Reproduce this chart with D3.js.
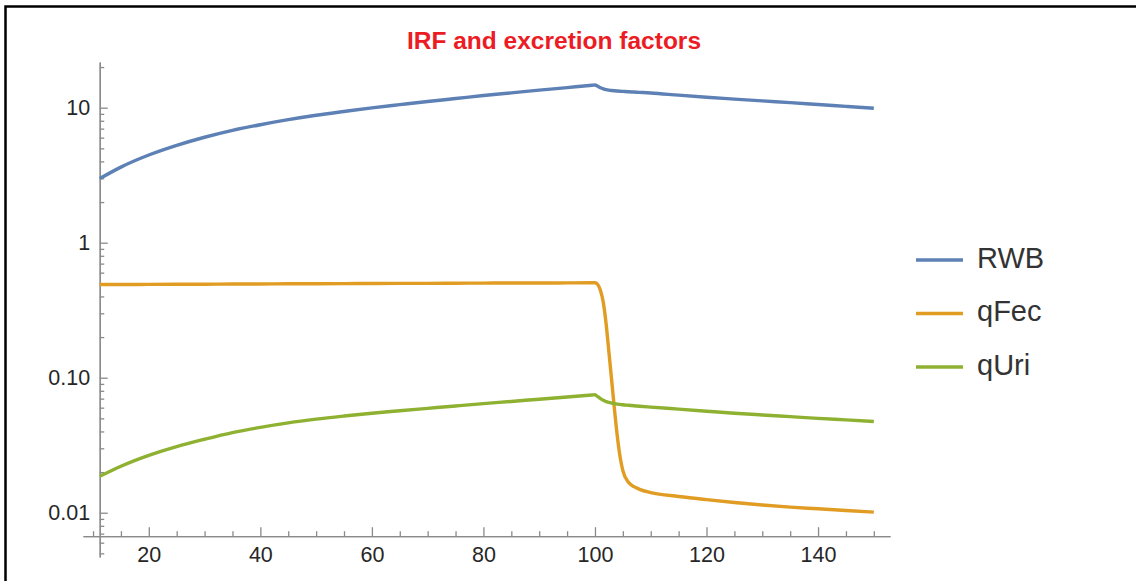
<!DOCTYPE html>
<html>
<head>
<meta charset="utf-8">
<script src="https://cdn.jsdelivr.net/npm/d3@7"></script>
<style>
  body { margin: 0; background: #fff; }
  svg { display: block; }
</style>
</head>
<body>
<div id="chart"></div>
<script>
// Chart values
var xs = [11.2, 15, 20, 25, 30, 35, 40, 45, 50, 55, 60, 65, 70, 75, 80, 85, 90, 95, 99.5, 100,
  100.5, 101, 101.5, 102, 102.5, 103, 103.5, 104, 104.5, 105, 106, 107, 108,
  110, 115, 120, 125, 130, 135, 140, 145, 150];

var rwb = [2.985, 3.63, 4.46, 5.26, 6.04, 6.79, 7.48, 8.15, 8.79, 9.38, 9.98, 10.54, 11.12, 11.69, 12.3, 12.88, 13.49, 14.09, 14.66, 14.72,
  14.4, 14.05, 13.8, 13.6, 13.48, 13.4, 13.34, 13.29, 13.25, 13.21, 13.13, 13.06, 12.99,
  12.85, 12.38, 11.95, 11.58, 11.23, 10.9, 10.55, 10.22, 9.9];

var qFec = [0.49, 0.49, 0.491, 0.492, 0.493, 0.494, 0.495, 0.496, 0.497, 0.498, 0.499, 0.5, 0.5, 0.501, 0.502, 0.503, 0.503, 0.504, 0.505, 0.505,
  0.49, 0.44, 0.36, 0.25, 0.155, 0.095, 0.058, 0.037, 0.026, 0.0205, 0.0168, 0.0156, 0.0149,
  0.0141, 0.0132, 0.0125, 0.0119, 0.0114, 0.011, 0.0107, 0.0104, 0.0101];

var qUri = [0.0186, 0.0221, 0.0266, 0.0309, 0.035, 0.0392, 0.0429, 0.0463, 0.0493, 0.052, 0.0546, 0.0569, 0.0593, 0.0618, 0.0643, 0.0667, 0.0693, 0.0719, 0.0745, 0.0748,
  0.0724, 0.07, 0.068, 0.0665, 0.0656, 0.0649, 0.0643, 0.0638, 0.0634, 0.063, 0.0625, 0.062, 0.0615,
  0.0606, 0.0585, 0.0565, 0.0546, 0.053, 0.0515, 0.05, 0.0487, 0.0474];

var seriesNames = ["RWB", "qFec", "qUri"];
var seriesColors = ["#5e81b5", "#e19c24", "#8fb131"];

var xMajorTicks = [20, 40, 60, 80, 100, 120, 140];
var xMinorTicks = [10, 15, 25, 30, 35, 45, 50, 55, 65, 70, 75, 85, 90, 95, 105, 110, 115, 125, 130, 135, 145, 150];
var yMajorTicks = [0.01, 0.1, 1, 10];
var yTickLabels = ["0.01", "0.10", "1", "10"];

var titleText = "IRF and excretion factors";

// Sizes
var svgWidth = 1136;
var svgHeight = 581;

var svg = d3.select("#chart")
  .append("svg")
  .attr("width", svgWidth)
  .attr("height", svgHeight);

// frame (top and left edges only are visible)
svg.append("path")
  .attr("d", "M5.5," + svgHeight + "V6.5H" + svgWidth)
  .attr("fill", "none")
  .attr("stroke", "#000")
  .attr("stroke-width", 2.5);

// Scales: axis lines run a little past the data
var xScale = d3.scaleLinear()
  .domain([8.2, 152.9])
  .range([83, 890]);

var yScale = d3.scaleLog()
  .domain([0.0047, 21.8])
  .range([557, 62]);

var xCross = 11.2;    // where the y axis sits
var yCross = 0.0067;  // where the x axis sits

var axisColor = "#8a8a8a";
var labelColor = "#262626";

// x axis: minor then major ticks, pointing up
var xAxisMinor = svg.append("g")
  .attr("transform", `translate(0, ${yScale(yCross)})`)
  .call(d3.axisBottom(xScale).tickValues(xMinorTicks).tickSize(-5).tickSizeOuter(0).tickFormat(""));

var xAxisMajor = svg.append("g")
  .attr("transform", `translate(0, ${yScale(yCross)})`)
  .call(d3.axisBottom(xScale).tickValues(xMajorTicks).tickSize(-9).tickSizeOuter(0).tickPadding(11));

// y axis: minor then major ticks, pointing right
var yMinorTicks = yScale.ticks().filter(function(v) {
  return yMajorTicks.every(function(m) { return Math.abs(v / m - 1) > 1e-6; });
});

var yAxisMinor = svg.append("g")
  .attr("transform", `translate(${xScale(xCross)}, 0)`)
  .call(d3.axisLeft(yScale).tickValues(yMinorTicks).tickSize(-4.5).tickSizeOuter(0).tickFormat(""));

var yAxisMajor = svg.append("g")
  .attr("transform", `translate(${xScale(xCross)}, 0)`)
  .call(d3.axisLeft(yScale).tickValues(yMajorTicks).tickSize(-8).tickSizeOuter(0).tickPadding(9.5)
    .tickFormat(function(d, i) { return yTickLabels[i]; }));

[xAxisMinor, xAxisMajor, yAxisMinor, yAxisMajor].forEach(function(g) {
  g.selectAll("path, line").attr("stroke", axisColor).attr("stroke-width", 1.3);
  g.selectAll("text")
    .attr("fill", labelColor)
    .attr("font-family", "'Liberation Sans', Arial, sans-serif")
    .attr("font-size", "21.5px");
});

// Lines
var lineData = [rwb, qFec, qUri];

var line = d3.line()
  .x(function(d, i) { return xScale(xs[i]); })
  .y(function(d) { return yScale(d); })
  .curve(d3.curveMonotoneX);

svg.append("g")
  .selectAll("path")
  .data(lineData)
  .enter()
  .append("path")
  .attr("d", line)
  .attr("fill", "none")
  .attr("stroke", function(d, i) { return seriesColors[i]; })
  .attr("stroke-width", 3.4)
  .attr("stroke-linejoin", "round")
  .attr("stroke-linecap", "butt");

// Title
svg.append("text")
  .attr("x", 554)
  .attr("y", 49)
  .attr("text-anchor", "middle")
  .attr("font-family", "'Liberation Sans', Arial, sans-serif")
  .attr("font-weight", "bold")
  .attr("font-size", "24.5px")
  .attr("fill", "#ec1c24")
  .text(titleText);

// Legend
var legend = svg.append("g")
  .attr("transform", "translate(916, 260)");

var legendItems = legend.selectAll("g")
  .data(seriesNames)
  .enter()
  .append("g")
  .attr("transform", function(d, i) { return `translate(0, ${i * 53.5})`; });

legendItems.append("line")
  .attr("x1", 0)
  .attr("x2", 47)
  .attr("y1", 0)
  .attr("y2", 0)
  .attr("stroke", function(d, i) { return seriesColors[i]; })
  .attr("stroke-width", 3.4);

legendItems.append("text")
  .attr("x", 61)
  .attr("y", 7.5)
  .attr("font-family", "'Liberation Sans', Arial, sans-serif")
  .attr("font-size", "29px")
  .attr("fill", "#333")
  .text(function(d) { return d; });
</script>
</body>
</html>
